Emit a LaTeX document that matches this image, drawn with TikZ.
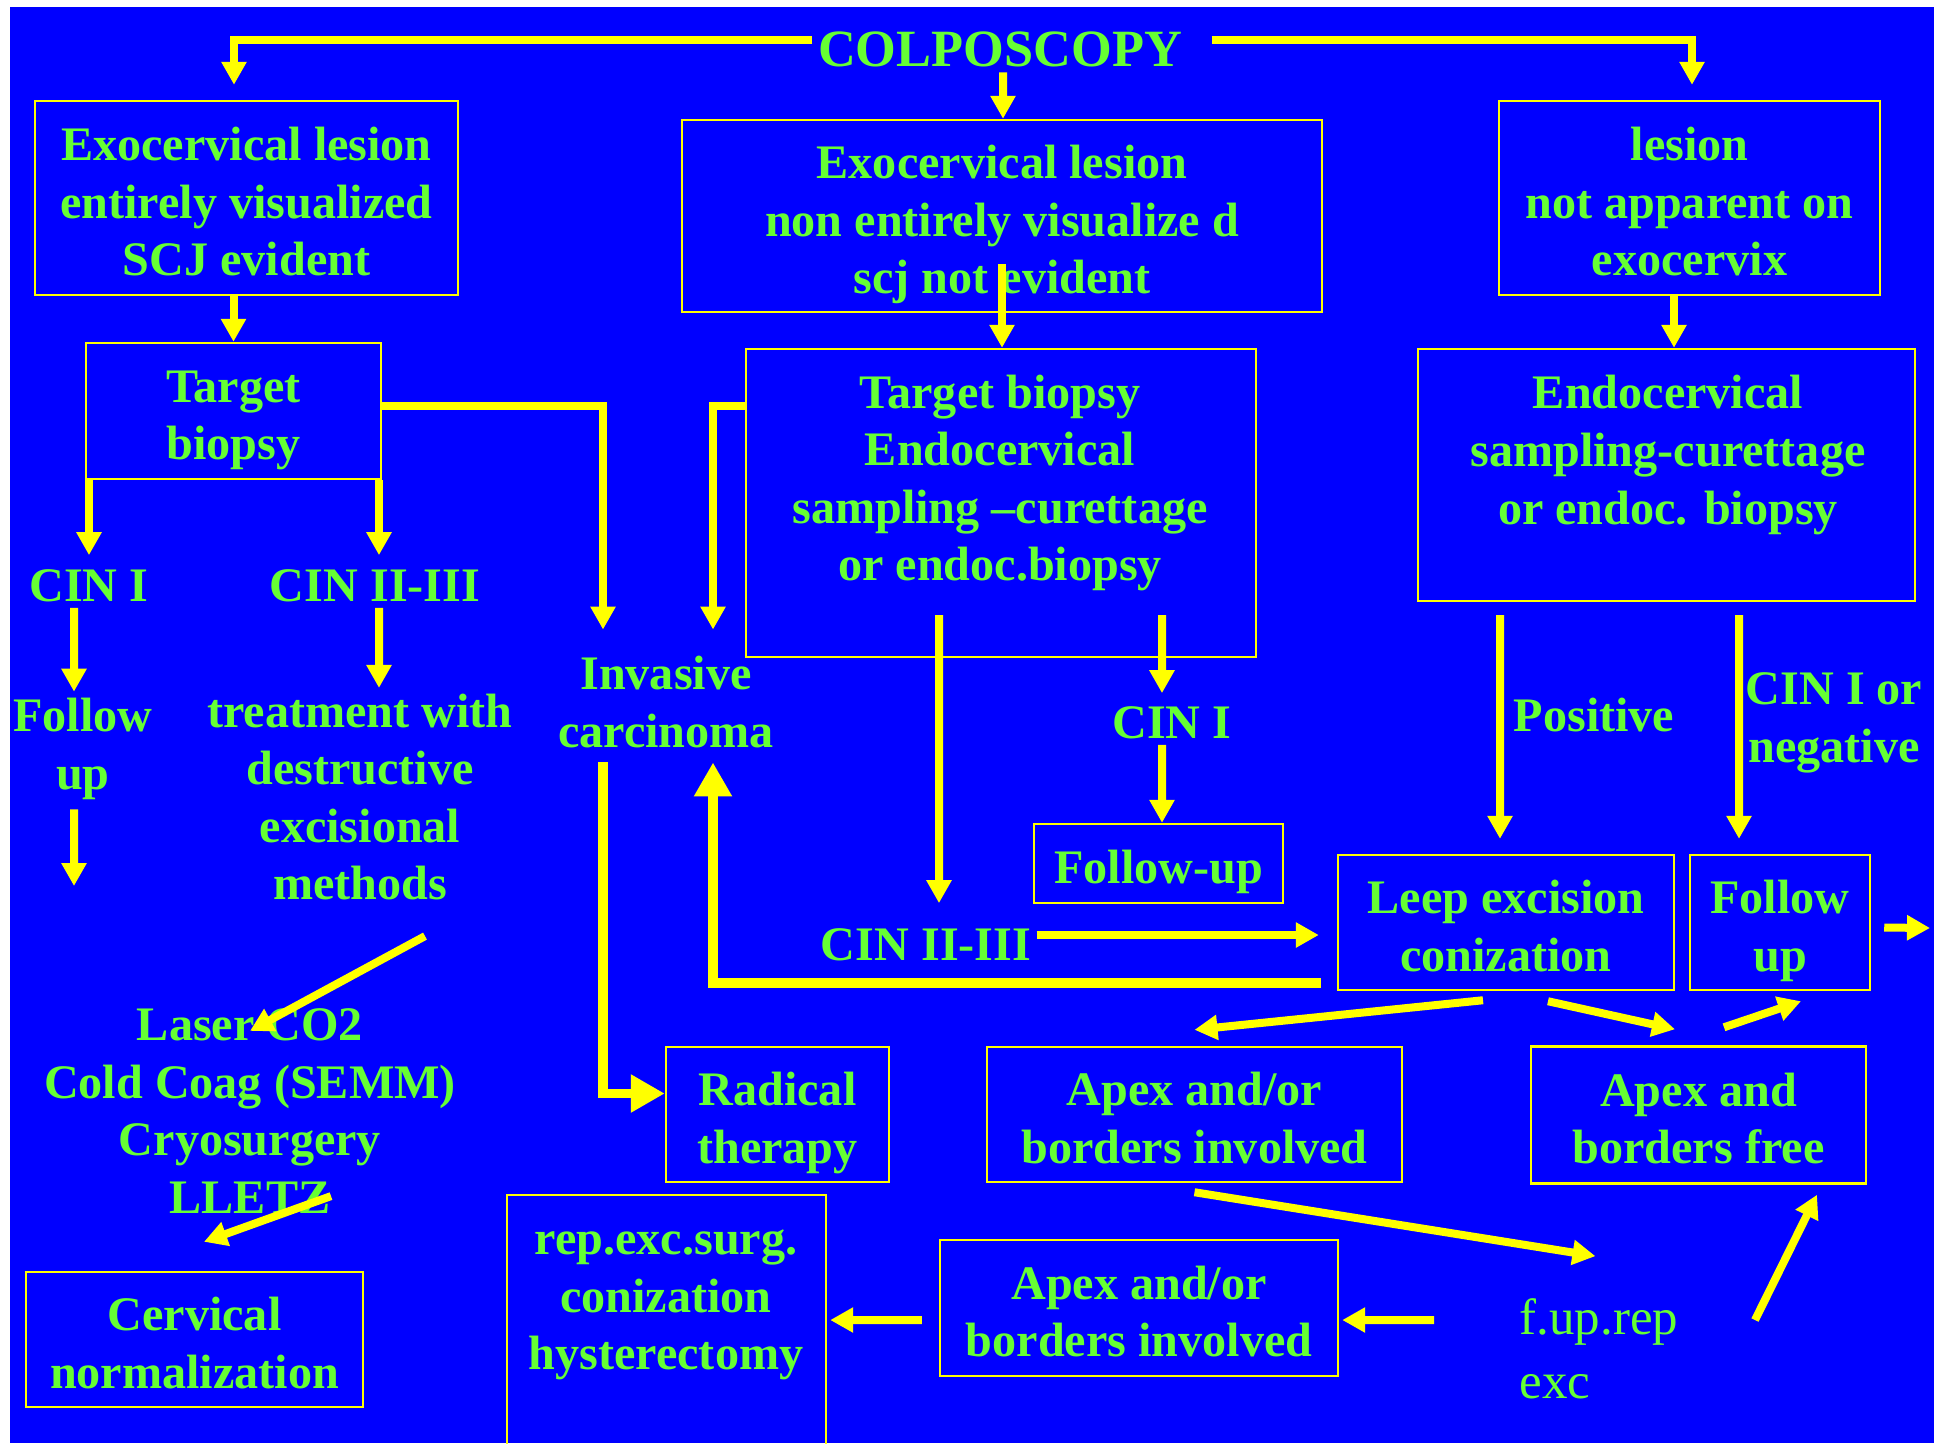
\documentclass[tikz,border=0pt]{standalone}
\usepackage{fontspec}
\setmainfont{Liberation Serif}
\usepackage{xcolor}
\usepackage{tikz}
\usetikzlibrary{arrows.meta}

\definecolor{slideblue}{RGB}{0,0,255}
\definecolor{txtgreen}{RGB}{102,255,51}
\definecolor{arrowyellow}{RGB}{255,255,0}
\newcommand{\boxtop}{\rule{0pt}{5.1mm}}
\newcommand{\boxbot}{\rule[-1.1mm]{0pt}{1.1mm}}

\begin{document}
\begin{tikzpicture}[x=1mm, y=-1mm,
  txt/.style={text=txtgreen, font=\bfseries\fontsize{13.7pt}{16.4pt}\selectfont, align=center, inner sep=0.5mm},
  box/.style={txt, draw=arrowyellow, line width=0.7pt, inner sep=0pt},
  conn/.style={arrowyellow, line width=0.8mm, -{Triangle[length=2.3mm, width=2.4mm]}},
  bigconn/.style={arrowyellow, line width=0.95mm, -{Triangle[length=3.4mm, width=3.6mm]}}]
\useasboundingbox (0,0) rectangle (193.4,144.3);
\clip (0,0) rectangle (193.4,144.3);
\fill[white] (0,0) rectangle (193.4,144.3);
\fill[slideblue] (1.0,0.7) rectangle (193.4,144.3);

% top row
\node[txt, font=\bfseries\fontsize{14.9pt}{17pt}\selectfont] (colpo) at (100.0,4.9) {COLPOSCOPY};
\node[box, minimum width=42.3mm, minimum height=19.4mm] (exo1) at (24.65,19.8) {\boxtop Exocervical lesion\\entirely visualized\\SCJ evident\boxbot};
\node[box, minimum width=64mm, minimum height=19.2mm] (exo2) at (100.2,21.6) {\boxtop Exocervical lesion\\non entirely visualize d\\scj not evident\boxbot};
\node[box, minimum width=38.1mm, minimum height=19.4mm] (exo3) at (168.95,19.8) {\boxtop lesion\\not apparent on\\exocervix\boxbot};

% biopsies
\node[box, minimum width=29.5mm, minimum height=13.6mm] (tb1) at (23.35,41.1) {\boxtop Target\\biopsy\boxbot};
\node[box, minimum width=51mm, minimum height=30.8mm] (tb2) at (100.1,50.3) {};
\node[txt] (tb2txt) at (100.0,48.3) {Target biopsy\\Endocervical\\sampling –curettage\\or endoc.biopsy};
\node[box, minimum width=49.7mm, minimum height=25.2mm] (endo) at (166.65,47.5) {};
\node[txt] (endotxt) at (166.8,45.5) {Endocervical\\sampling-curettage\\or endoc. biopsy};

% left column
\node[txt] (cin1a) at (8.9,58.6) {CIN I};
\node[txt] (cin23a) at (37.5,58.6) {CIN II-III};
\node[txt] (fua) at (8.3,74.9) {Follow\\up};
\node[txt] (treat) at (36.0,79.7) {treatment with\\destructive\\excisional\\methods};
\node[txt] (laser) at (25.0,111.1) {Laser CO2\\Cold Coag (SEMM)\\Cryosurgery\\LLETZ};
\node[box, minimum width=33.7mm, minimum height=13.5mm] (cerv) at (19.45,133.95) {\boxtop Cervical\\normalization\boxbot};
\node[txt] (inv) at (66.6,70.2) {Invasive\\carcinoma};

% middle and right
\node[txt] (cin1b) at (117.2,72.3) {CIN I};
\node[box, minimum width=24.9mm, minimum height=7.9mm] (fub) at (115.85,86.35) {\boxtop Follow-up\boxbot};
\node[txt] (cin23b) at (92.6,94.5) {CIN II-III};
\node[txt] (pos) at (159.4,71.5) {Positive};
\node[txt] (neg) at (183.4,72.3) {CIN I or\\negative};
\node[box, minimum width=33.6mm, minimum height=13.5mm] (leep) at (150.6,92.25) {\boxtop Leep excision\\conization\boxbot};
\node[box, minimum width=18mm, minimum height=13.5mm] (fur) at (178.0,92.25) {\boxtop Follow\\up\boxbot};
\node[box, minimum width=22.3mm, minimum height=13.5mm] (rad) at (77.75,111.45) {\boxtop Radical\\therapy\boxbot};
\node[box, minimum width=41.5mm, minimum height=13.5mm] (apex1) at (119.45,111.45) {\boxtop Apex and/or\\borders involved\boxbot};
\node[box, minimum width=33.5mm, minimum height=13.7mm] (apexf) at (169.85,111.5) {\boxtop Apex and\\borders free\boxbot};
\node[box, minimum width=39.8mm, minimum height=13.6mm] (apex2) at (113.9,130.8) {\boxtop Apex and/or\\borders involved\boxbot};
\node[box, minimum width=31.9mm, minimum height=26.5mm] (rep) at (66.65,132.75) {};
\node[txt] (reptxt) at (66.6,130.5) {rep.exc.surg.\\conization\\hysterectomy};
\node[txt, anchor=west, align=left, font=\fontsize{14.5pt}{18.2pt}\selectfont] (fup) at (151.4,134.9) {f.up.rep\\exc};

\coordinate (fuend) at (7.4,88.6);
\coordinate (outend) at (193.0,92.8);
\coordinate (upstart) at (175.5,132.0);

% connectors
\draw[conn] ([yshift=0.95mm]colpo.west) -| ([xshift=-1.25mm,yshift=1.5mm]exo1.north);
\draw[conn] ([xshift=2.4mm,yshift=0.95mm]colpo.east) -| ([xshift=0.25mm,yshift=1.5mm]exo3.north);
\draw[conn] ([xshift=0.3mm]colpo.south) -- ([xshift=0.1mm]exo2.north);
\draw[conn] (exo1.south -| tb1.north) -- (tb1.north);
\draw[conn] ([yshift=4.9mm]exo2.south) -- (exo2.south |- tb2.north);
\draw[conn] ([xshift=-1.55mm]exo3.south) -- ([xshift=-1.55mm]exo3.south |- endo.north);

\draw[conn] ([yshift=0.5mm]tb1.east) -| ([xshift=-6.3mm,yshift=2.1mm]inv.north);
\draw[conn] ([yshift=9.7mm]tb2.west) -| ([xshift=4.7mm,yshift=2.1mm]inv.north);
\draw[conn] (cin1a.north |- tb1.south) -- ([yshift=0.9mm]cin1a.north);
\draw[conn] ([xshift=0.4mm]cin23a.north |- tb1.south) -- ([xshift=0.4mm,yshift=0.9mm]cin23a.north);
\draw[conn] ([xshift=-1.5mm]cin1a.south) -- ([xshift=-0.9mm,yshift=0.1mm]fua.north);
\draw[conn] ([xshift=-0.9mm,yshift=-0.4mm]fua.south) -- (fuend);
\draw[conn] ([xshift=0.4mm]cin23a.south) -- ([xshift=1.9mm]treat.north);
\draw[conn] ([xshift=6.5mm,yshift=-3mm]treat.south) -- ([yshift=-2.8mm]laser.north);
\draw[conn] ([xshift=8.1mm,yshift=2.3mm]laser.south) -- ([xshift=0.95mm,yshift=2.9mm]cerv.north);
\draw[bigconn] ([xshift=-6.3mm,yshift=-0.9mm]inv.south) |- ([yshift=2.1mm]rad.west);
\draw[bigconn] ([xshift=-1.6mm,yshift=-6.05mm]leep.west) -| ([xshift=4.7mm,yshift=-0.9mm]inv.south);

\draw[conn] ([xshift=-6.2mm,yshift=4.3mm]tb2.south) -- ([xshift=1.3mm,yshift=2mm]cin23b.north);
\draw[conn] ([xshift=16.1mm,yshift=4.3mm]tb2.south) -- ([xshift=-1mm,yshift=0.8mm]cin1b.north);
\draw[conn] ([xshift=-1mm]cin1b.south) -- ([xshift=0.35mm]fub.north);
\draw[conn] ([yshift=1mm]cin23b.east) -- ([xshift=-1.8mm,yshift=-1.25mm]leep.west);
\draw[conn] ([xshift=-16.65mm,yshift=-1.3mm]endo.south) -- ([xshift=-0.6mm,yshift=1.5mm]leep.north);
\draw[conn] ([xshift=7.25mm,yshift=-1.3mm]endo.south) -- ([xshift=-4.1mm,yshift=1.5mm]fur.north);
\draw[conn] ([xshift=1.3mm,yshift=-0.5mm]fur.east) -- (outend);

\draw[conn] ([xshift=-2.3mm,yshift=-0.9mm]leep.south) -- ([yshift=1.6mm]apex1.north);
\draw[conn] ([xshift=4.2mm,yshift=-1mm]leep.south) -- ([xshift=-2.35mm,yshift=1.6mm]apexf.north);
\draw[conn] ([xshift=2.55mm,yshift=1.8mm]apexf.north) -- ([xshift=2.1mm,yshift=-1mm]fur.south);
\draw[conn] ([yshift=-0.9mm]apex1.south) -- ([xshift=-0.35mm,yshift=3.7mm]fup.north);
\draw[conn] (upstart) -- ([xshift=11.85mm,yshift=-1mm]apexf.south);
\draw[conn] ([xshift=-8.0mm,yshift=2.9mm]fup.west) -- ([xshift=0.3mm,yshift=-1.2mm]apex2.east);
\draw[conn] ([xshift=-1.7mm,yshift=-1.2mm]apex2.west) -- ([xshift=0.3mm,yshift=0.75mm]rep.east);
\end{tikzpicture}
\end{document}
